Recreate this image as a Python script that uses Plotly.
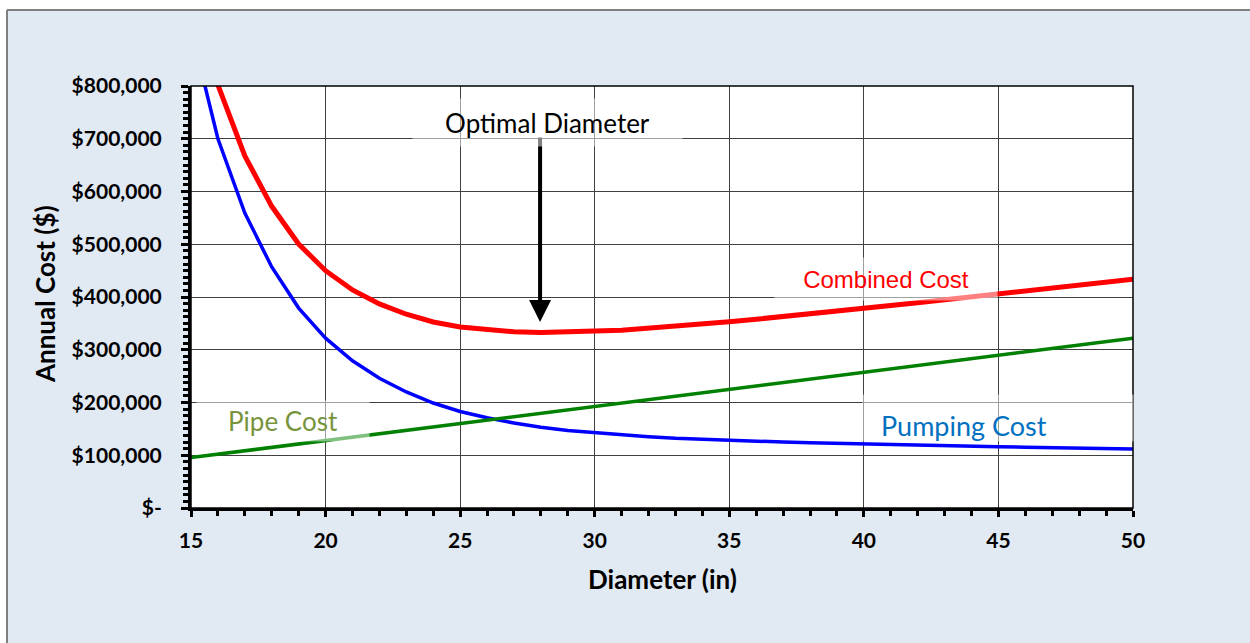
import plotly.graph_objects as go

diameter_in = list(range(15, 51))

pumping_cost = [908000, 700000, 559000, 457000, 379000, 322000, 279000, 246000, 220000, 199000,
                183000, 171000, 161000, 153000, 147000, 143000, 138000, 135000, 132000, 130000,
                128000, 126500, 125000, 123800, 122500, 121300, 120200, 119100, 118100, 117100,
                116200, 115300, 114400, 113500, 112600, 111800]

pipe_cost = [95500, 102000, 108400, 114900, 121400, 127900, 134300, 140800, 147300, 153700,
             160200, 166700, 173100, 179600, 186100, 192600, 199000, 205500, 212000, 218400,
             224900, 231400, 237800, 244300, 250800, 257300, 263700, 270200, 276700, 283100,
             289600, 296100, 302500, 309000, 315500, 322000]

combined_cost = [1003500, 802000, 667400, 571900, 500400, 449900, 413300, 386800, 367300, 352700,
                 343200, 337700, 334100, 332600, 333100, 335600, 337000, 340500, 344000, 348400,
                 352900, 357900, 362800, 368100, 373300, 378600, 383900, 389300, 394800, 400200,
                 405800, 411400, 416900, 422500, 428100, 433800]

x_ticks = [15, 20, 25, 30, 35, 40, 45, 50]
y_ticks = [0, 100000, 200000, 300000, 400000, 500000, 600000, 700000, 800000]
y_tick_text = ["$-", "$100,000", "$200,000", "$300,000", "$400,000", "$500,000",
               "$600,000", "$700,000", "$800,000"]

optimal_d = 27.97
optimal_cost = 352600

BG = "#E1E9F3"
FONT = "Lato"

fig = go.Figure()
fig.add_trace(go.Scatter(x=diameter_in, y=pumping_cost, mode="lines",
                         line=dict(color="#0000FF", width=3.5), name="Pumping Cost"))
fig.add_trace(go.Scatter(x=diameter_in, y=pipe_cost, mode="lines",
                         line=dict(color="#008000", width=3.5), name="Pipe Cost"))
fig.add_trace(go.Scatter(x=diameter_in, y=combined_cost, mode="lines",
                         line=dict(color="#FF0000", width=5), name="Combined Cost"))

W, H = 1250, 643
L, R, T, B = 191, 117, 86, 135
PW, PH = W - L - R, H - T - B


def px(xp):
    return (xp - L) / PW


def py(yp):
    return (H - B - yp) / PH


shapes = [
    dict(type="rect", xref="paper", yref="paper", x0=-1, x1=2, y0=py(10), y1=3,
         fillcolor="white", line=dict(width=0), layer="above"),
    dict(type="rect", xref="paper", yref="paper", x0=-1, x1=px(7), y0=-1, y1=3,
         fillcolor="white", line=dict(width=0), layer="above"),
    dict(type="line", xref="paper", yref="paper", x0=px(7), x1=2, y0=py(10), y1=py(10),
         line=dict(color="#7F7F7F", width=2)),
    dict(type="line", xref="paper", yref="paper", x0=px(7), x1=px(7), y0=-1, y1=py(10),
         line=dict(color="#7F7F7F", width=2)),
    dict(type="rect", xref="paper", yref="paper", x0=0, x1=1, y0=0, y1=1,
         line=dict(color="black", width=1.5), layer="above"),
]

label_bg = "rgba(255,255,255,0.5)"
annotations = [
    dict(x=optimal_d, y=optimal_cost, ax=optimal_d, ay=705000, xref="x", yref="y",
         axref="x", ayref="y", text="", showarrow=True, arrowhead=2, arrowsize=1.1,
         arrowwidth=4, arrowcolor="black"),
    dict(x=28.23, y=729900, xref="x", yref="y", text="Optimal Diameter", showarrow=False,
         font=dict(family=FONT, size=26, color="black"), bgcolor=label_bg,
         width=267, height=45),
    dict(x=40.82, y=434000, xref="x", yref="y", text="Combined Cost", showarrow=False,
         font=dict(family="Liberation Sans", size=24, color="#FF0000"), bgcolor=label_bg,
         width=220, height=40),
    dict(x=18.42, y=165000, xref="x", yref="y", text="Pipe Cost", showarrow=False,
         font=dict(family=FONT, size=26, color="#77933C"), bgcolor=label_bg,
         width=170, height=38),
    dict(x=44.98, y=170600, xref="x", yref="y", text=" ", showarrow=False,
         font=dict(family=FONT, size=27, color="#0070C0"), bgcolor=label_bg,
         width=270, height=46, borderpad=0),
    dict(x=43.72, y=157000, xref="x", yref="y", text="Pumping Cost", showarrow=False,
         font=dict(family=FONT, size=27, color="#0070C0")),
    dict(x=px(45), y=py(294), xref="paper", yref="paper", text="Annual Cost ($)",
         textangle=-90, showarrow=False, xanchor="center", yanchor="middle",
         font=dict(family=FONT, size=26, color="black", weight="bold")),
    dict(x=px(662), y=py(579), xref="paper", yref="paper", text="Diameter (in)",
         showarrow=False, xanchor="center", yanchor="middle",
         font=dict(family=FONT, size=26, color="black", weight="bold")),
]

fig.update_layout(
    width=W, height=H, margin=dict(l=L, r=R, t=T, b=B),
    paper_bgcolor=BG, plot_bgcolor="white", showlegend=False,
    shapes=shapes, annotations=annotations, hovermode=False,
    xaxis=dict(range=[15, 50], tickmode="array", tickvals=x_ticks,
               ticks="outside", ticklen=6, tickwidth=3, tickcolor="black",
               showline=True, linewidth=3, linecolor="black",
               showgrid=True, gridcolor="#404040", gridwidth=1, zeroline=False,
               tickfont=dict(family=FONT, size=21, color="black", weight="bold"),
               ticklabelstandoff=6,
               minor=dict(tick0=15, dtick=1, ticks="outside", ticklen=5, tickwidth=3,
                          tickcolor="black", showgrid=False)),
    yaxis=dict(range=[0, 800000], tickmode="array", tickvals=y_ticks, ticktext=y_tick_text,
               ticks="outside", ticklen=7, tickwidth=3, tickcolor="black",
               showline=True, linewidth=3, linecolor="black",
               showgrid=True, gridcolor="#404040", gridwidth=1, zeroline=False,
               tickfont=dict(family=FONT, size=21, color="black", weight="bold"),
               ticklabelstandoff=15,
               minor=dict(tick0=0, dtick=12500, ticks="outside", ticklen=5, tickwidth=3,
                          tickcolor="black", showgrid=False)),
)

fig.write_html("out.html")
